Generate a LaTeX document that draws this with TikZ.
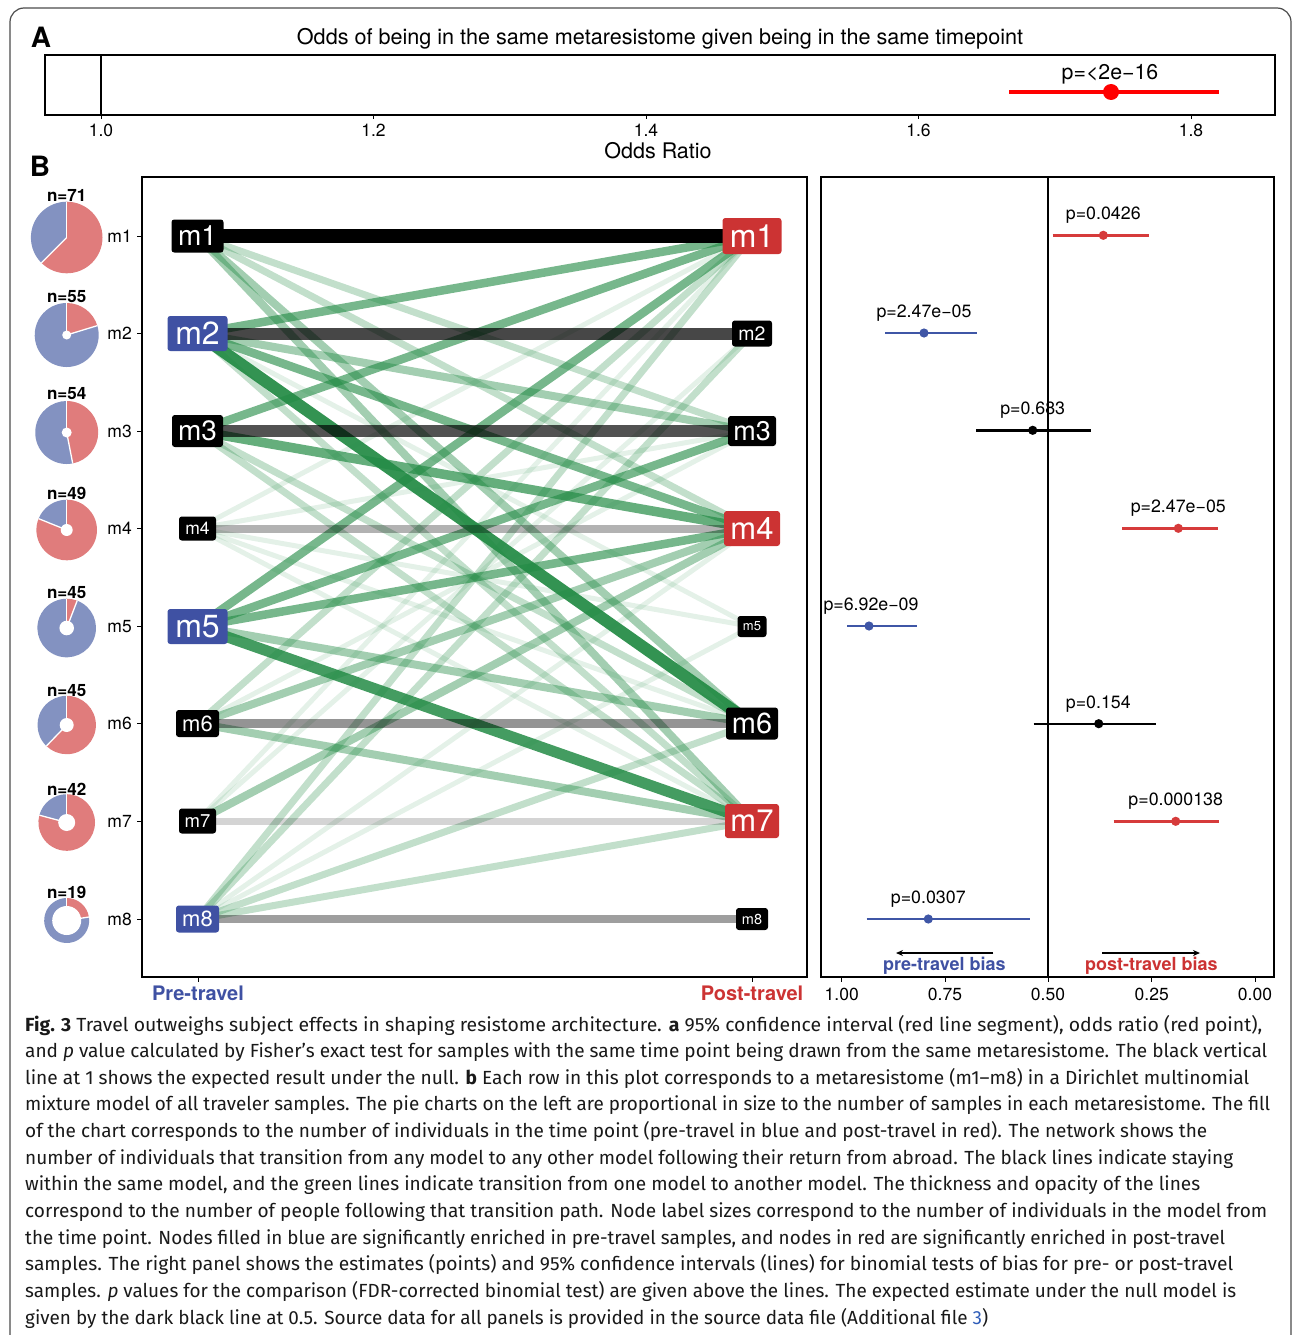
\documentclass[tikz,border=0pt]{standalone}
\usepackage{fontspec}
\usepackage{graphicx}
\setmainfont{TeX Gyre Heros}
\newfontfamily\capfont{Fira Sans}
\usetikzlibrary{arrows.meta}
\pgfdeclarelayer{bg}
\pgfsetlayers{bg,main}
\definecolor{nblue}{HTML}{3F51A3}
\definecolor{nred}{HTML}{CC3333}
\definecolor{pblue}{HTML}{8392C1}
\definecolor{pred}{HTML}{E07C7C}
\definecolor{egreen}{HTML}{238B45}
\definecolor{sred}{HTML}{D63B3B}
\definecolor{sblue}{HTML}{3F56A6}
\definecolor{linkblue}{HTML}{2E5CB8}
\newcommand\fs[1]{\fontsize{#1}{#1}\selectfont}
\newcommand\mypie[6]{% x, y, r, red angle, hole r, dummy
  \fill[pred] (#1,#2) -- ++(-90:#3) arc[start angle=-90, end angle={-90+#4}, radius=#3] -- cycle;
  \fill[pblue] (#1,#2) -- ++({-90+#4}:#3) arc[start angle={-90+#4}, end angle=270, radius=#3] -- cycle;
  \draw[white, line width=1.3pt] (#1,#2) -- ++(-90:#3);
  \draw[white, line width=1.3pt] (#1,#2) -- ++({-90+#4}:#3);
  \fill[white] (#1,#2) circle[radius=#5];
}
\newcommand\capline[4]{\node[anchor=base west, inner sep=0pt, text=black!90] (#1) at (25,#2) {\capfont\fs{19}\resizebox{#3pt}{\height}{#4}};}
\tikzset{
  nd/.style={rounded corners=2.8pt, inner sep=0pt, text=white},
  et/.style={line width=12pt, draw=egreen, draw opacity=.93},
  etb/.style={line width=11pt, draw=egreen, draw opacity=.85},
  emd/.style={line width=9.5pt, draw=egreen, draw opacity=.70},
  em/.style={line width=8.5pt, draw=egreen, draw opacity=.62},
  eml/.style={line width=8pt, draw=egreen, draw opacity=.42},
  el/.style={line width=7pt, draw=egreen, draw opacity=.28},
  ev/.style={line width=5pt, draw=egreen, draw opacity=.12},
  tick/.style={line width=1pt},
  ptlab/.style={font=\fs{17.8}},
}
\begin{document}
\begin{tikzpicture}[x=1pt,y=-1pt]
\useasboundingbox (0,0) rectangle (1293,1335);
% outer frame
\draw[line width=1.2pt, black!70, rounded corners=14pt] (10,1345) -- (10,8) -- (1291,8) -- (1291,1345);

% ---------------- Panel A ----------------
\node[font=\fs{28}\bfseries] (labA) at (41,37) {A};
\node[font=\fs{21.6}] (Atitle) at (660,39) {Odds of being in the same metaresistome given being in the same timepoint};
\draw[line width=1.2pt] (45,55) rectangle (1275,115);
\draw[line width=1.2pt] (101,55) -- (101,115);
\foreach \x/\l [count=\i] in {101/1.0,373.5/1.2,646/1.4,918.5/1.6,1191/1.8}{
  \draw[tick] (\x,115) -- (\x,119);
  \node[font=\fs{17.5}] (at\i) at (\x,130) {\l};
}
\node[font=\fs{21.5}] (oddsratio) at (658,151) {Odds Ratio};
\draw[line width=4pt, red] (1009,92) -- (1219,92);
\fill[red] (1111,92) circle[radius=8];
\node[font=\fs{21.3}] (pA) at (1110,74) {p=<2e−16};

% ---------------- Panel B ----------------
\node[font=\fs{28}\bfseries] (labB) at (40,166) {B};

% pies
\mypie{66.7}{237.5}{35.8}{225}{0}{}
\mypie{66.7}{335}{32}{73}{4.5}{}
\mypie{66.7}{432.5}{31.5}{169}{5}{}
\mypie{66.7}{530}{30.3}{292}{6}{}
\mypie{66.7}{628}{29.3}{21}{7.3}{}
\mypie{66.7}{725}{29.2}{224}{7}{}
\mypie{66.7}{822.5}{28.3}{285}{8.5}{}
\mypie{66.7}{920.5}{22.5}{81}{14.5}{}
\foreach \y/\l [count=\i] in {195/n=71,296.7/n=55,394/n=54,493/n=49,593/n=45,690.5/n=45,789/n=42,892.5/n=19}{
  \node[font=\fs{17}\bfseries] (n\i) at (66.7,\y) {\l};
}
% row labels and ticks
\foreach \y [count=\i] in {236,333.5,431,528.5,626.5,723.5,821,919}{
  \node[anchor=east, font=\fs{17.5}, inner sep=0pt] (t\i) at (132,\y) {m\i};
  \draw[tick] (137,\y) -- (142,\y);
}

% network box
\draw[line width=1.5pt] (142,177) rectangle (807,977);
\draw[tick] (198,977) -- (198,982);
\draw[tick] (752,977) -- (752,982);
\node[font=\fs{20}\bfseries, text=nblue] (pre) at (198,993) {Pre-travel};
\node[font=\fs{20}\bfseries, text=nred] (post) at (752,993) {Post-travel};

% left nodes
\node[nd, fill=black, minimum width=52pt, minimum height=33pt, font=\fs{28}] (L1) at (197.5,236) {m1};
\node[nd, fill=nblue, minimum width=60pt, minimum height=35pt, font=\fs{32}] (L2) at (197.5,333.5) {m2};
\node[nd, fill=black, minimum width=51pt, minimum height=32pt, font=\fs{28}] (L3) at (197.5,431) {m3};
\node[nd, fill=black, minimum width=37pt, minimum height=24pt, font=\fs{17.5}] (L4) at (197.5,528.5) {m4};
\node[nd, fill=nblue, minimum width=60pt, minimum height=35pt, font=\fs{32}] (L5) at (197.5,626.5) {m5};
\node[nd, fill=black, minimum width=43pt, minimum height=27pt, font=\fs{22}] (L6) at (197.5,723.5) {m6};
\node[nd, fill=black, minimum width=37pt, minimum height=25pt, font=\fs{18.5}] (L7) at (197.5,821) {m7};
\node[nd, fill=nblue, minimum width=43pt, minimum height=27pt, font=\fs{22}] (L8) at (197.5,919) {m8};
% right nodes
\node[nd, fill=nred, minimum width=59pt, minimum height=36pt, font=\fs{32}] (R1) at (752,236) {m1};
\node[nd, fill=black, minimum width=40pt, minimum height=26pt, font=\fs{19.5}] (R2) at (752,333.5) {m2};
\node[nd, fill=black, minimum width=48pt, minimum height=30pt, font=\fs{27}] (R3) at (752,431) {m3};
\node[nd, fill=nred, minimum width=56pt, minimum height=35pt, font=\fs{31}] (R4) at (752,528.5) {m4};
\node[nd, fill=black, minimum width=29pt, minimum height=21pt, font=\fs{13}] (R5) at (752,626.5) {m5};
\node[nd, fill=black, minimum width=52pt, minimum height=32pt, font=\fs{29}] (R6) at (752,723.5) {m6};
\node[nd, fill=nred, minimum width=54pt, minimum height=34pt, font=\fs{31}] (R7) at (752,821) {m7};
\node[nd, fill=black, minimum width=32pt, minimum height=22pt, font=\fs{14.5}] (R8) at (752,919) {m8};

\begin{pgfonlayer}{bg}
\foreach \a/\b/\s in {
  1/3/el, 1/4/el, 1/6/eml, 1/7/eml,
  2/1/em, 2/3/eml, 2/4/em, 2/7/el, 2/5/ev,
  3/1/em, 3/4/emd, 3/6/el, 3/7/el,
  4/1/ev, 4/3/ev, 4/5/ev, 4/6/ev, 4/7/ev,
  5/1/em, 5/3/em, 5/4/em, 5/6/eml, 5/7/etb,
  6/1/el, 6/4/eml, 6/7/eml, 6/3/ev,
  7/4/eml, 7/2/ev, 7/1/ev,
  8/1/el, 8/4/ev, 8/5/ev, 8/6/el, 8/7/el, 8/2/el,
  2/6/et}{
  \draw[\s] (L\a.center) -- (R\b.center);
}
\draw[line width=14pt, black] (L1.center) -- (R1.center);
\draw[line width=12pt, draw=black, draw opacity=.72] (L2.center) -- (R2.center);
\draw[line width=12pt, draw=black, draw opacity=.68] (L3.center) -- (R3.center);
\draw[line width=8pt, draw=black, draw opacity=.3] (L4.center) -- (R4.center);
\draw[line width=9pt, draw=black, draw opacity=.42] (L6.center) -- (R6.center);
\draw[line width=7pt, draw=black, draw opacity=.17] (L7.center) -- (R7.center);
\draw[line width=8pt, draw=black, draw opacity=.38] (L8.center) -- (R8.center);
\end{pgfonlayer}

% ---------------- right panel ----------------
\draw[line width=1.5pt] (821,177) rectangle (1274,977);
\draw[line width=2pt] (1048,177) -- (1048,977);
\foreach \x/\l [count=\i] in {841.7/1.00,945/0.75,1048/0.50,1151.7/0.25,1255/0.00}{
  \draw[tick] (\x,977) -- (\x,982);
  \node[font=\fs{17.5}] (bx\i) at (\x,994) {\l};
}
\foreach \c/\xa/\xb/\xp/\y/\l/\lx [count=\i] in {
  sred/1052.7/1149/1103.3/235.3/p=0.0426/1103.3,
  sblue/885/977.3/924/333/p=2.47e−05/924,
  black/976.3/1090.7/1032.7/430.3/p=0.683/1032.7,
  sred/1122.3/1218/1178.3/528.3/p=2.47e−05/1178.3,
  sblue/847.3/916.7/869/626/p=6.92e−09/871,
  black/1033.7/1156.3/1098.7/723.7/p=0.154/1098.3,
  sred/1113.7/1218.7/1175.7/821.3/p=0.000138/1175.7,
  sblue/866.7/1029.7/928.3/919/p=0.0307/928.3}{
  \draw[line width=2.4pt, \c] (\xa,\y) -- (\xb,\y);
  \fill[\c] (\xp,\y) circle[radius=4.6];
  \node[ptlab] (pl\i) at (\lx,\y-19.7) {\l};
}
\coordinate (arLs) at (993.3,953);
\coordinate (arLe) at (896,953);
\coordinate (arRs) at (1102.3,953);
\coordinate (arRe) at (1200,953);
\draw[line width=1.3pt, -{Stealth[length=7pt,width=6pt]}] (arLs) -- (arLe);
\draw[line width=1.3pt, -{Stealth[length=7pt,width=6pt]}] (arRs) -- (arRe);
\node[font=\fs{18}\bfseries, text=nblue] (prebias) at (944.3,966) {pre-travel bias};
\node[font=\fs{18}\bfseries, text=nred] (postbias) at (1151.3,966) {post-travel bias};

% ---------------- caption ----------------
\capline{c1}{1031}{1237}{\textbf{Fig. 3} Travel outweighs subject effects in shaping resistome architecture. \textbf{a} 95\% confidence interval (red line segment), odds ratio (red point),}
\capline{c2}{1057.6}{1242}{and \textit{p} value calculated by Fisher’s exact test for samples with the same time point being drawn from the same metaresistome. The black vertical}
\capline{c3}{1084.3}{1224}{line at 1 shows the expected result under the null. \textbf{b} Each row in this plot corresponds to a metaresistome (m1–m8) in a Dirichlet multinomial}
\capline{c4}{1110.9}{1245}{mixture model of all traveler samples. The pie charts on the left are proportional in size to the number of samples in each metaresistome. The fill}
\capline{c5}{1137.6}{1182}{of the chart corresponds to the number of individuals in the time point (pre-travel in blue and post-travel in red). The network shows the}
\capline{c6}{1164.2}{1208}{number of individuals that transition from any model to any other model following their return from abroad. The black lines indicate staying}
\capline{c7}{1190.8}{1175}{within the same model, and the green lines indicate transition from one model to another model. The thickness and opacity of the lines}
\capline{c8}{1217.5}{1242}{correspond to the number of people following that transition path. Node label sizes correspond to the number of individuals in the model from}
\capline{c9}{1244.1}{1200}{the time point. Nodes filled in blue are significantly enriched in pre-travel samples, and nodes in red are significantly enriched in post-travel}
\capline{c10}{1270.8}{1208}{samples. The right panel shows the estimates (points) and 95\% confidence intervals (lines) for binomial tests of bias for pre- or post-travel}
\capline{c11}{1297.4}{1211}{samples. \textit{p} values for the comparison (FDR-corrected binomial test) are given above the lines. The expected estimate under the null model is}
\capline{c12}{1324}{963}{given by the dark black line at 0.5. Source data for all panels is provided in the source data file (Additional file \textcolor{linkblue}{3})}
\end{tikzpicture}
\end{document}
